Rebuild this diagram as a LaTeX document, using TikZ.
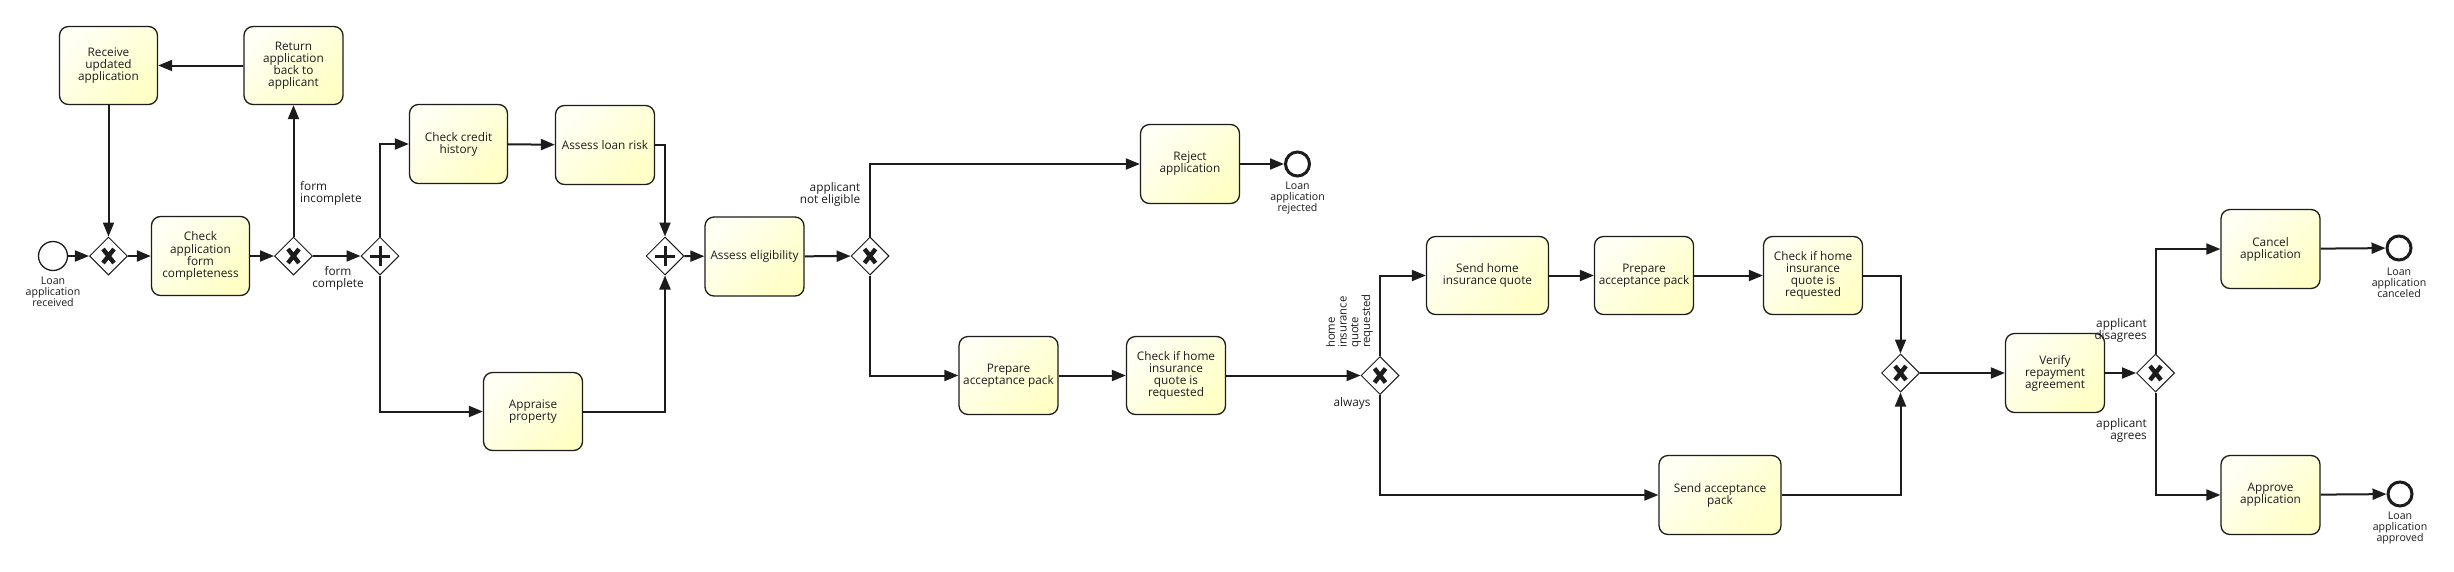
\documentclass[tikz,border=0pt]{standalone}
\usepackage{fontspec}
\setmainfont{Open Sans}
\usetikzlibrary{arrows.meta,shapes.geometric}

\definecolor{taskA}{RGB}{255,255,244}
\definecolor{taskB}{RGB}{255,255,198}
\definecolor{ink}{RGB}{28,28,28}

\tikzset{
 task/.style={rectangle, rounded corners=9pt, draw=ink, line width=1.3pt,
   top color=taskA, bottom color=taskB, shading angle=45,
   align=center, font=\fontsize{11.8}{12.1}\selectfont, text=ink, inner sep=2pt},
 gw/.style={diamond, draw=ink, line width=1pt, fill=white,
   minimum width=38pt, minimum height=38pt, inner sep=0pt},
 xorgw/.style={gw, path picture={
   \draw[line width=4.4pt, ink]
     ([shift={(-5.5,-7)}]path picture bounding box.center) -- ([shift={(5.5,7)}]path picture bounding box.center)
     ([shift={(-5.5,7)}]path picture bounding box.center) -- ([shift={(5.5,-7)}]path picture bounding box.center);}},
 andgw/.style={gw, path picture={
   \draw[line width=3pt, ink]
     ([shift={(-10,0)}]path picture bounding box.center) -- ([shift={(10,0)}]path picture bounding box.center)
     ([shift={(0,-10)}]path picture bounding box.center) -- ([shift={(0,10)}]path picture bounding box.center);}},
 startev/.style={circle, draw=ink, line width=1.3pt, fill=white, minimum size=29pt, inner sep=0pt},
 endev/.style={circle, draw=ink, line width=3pt, fill=white, minimum size=24pt, inner sep=0pt},
 flow/.style={draw=ink, line width=2pt, -{Triangle[length=14pt,width=11pt]}},
 evlabel/.style={align=center, font=\fontsize{10.6}{11}\selectfont, text=ink, inner sep=0pt},
 edgelabel/.style={font=\fontsize{11.8}{12.1}\selectfont, text=ink, inner sep=0pt},
}

\begin{document}
\begin{tikzpicture}[x=1pt, y=-1pt]
\useasboundingbox (0,0) rectangle (2454,571);
\fill[white] (0,0) rectangle (2454,571);

% events
\node[startev] (start) at (53,256) {};
\node[evlabel] (startlbl) at (53,292) {Loan\\application\\received};
\node[endev] (endrej) at (1297.5,164) {};
\node[evlabel] (rejlbl) at (1297.5,198) {Loan\\application\\rejected};
\node[endev] (endcan) at (2399,248) {};
\node[evlabel] (canlbl) at (2399,283) {Loan\\application\\canceled};
\node[endev] (endapp) at (2400,494) {};
\node[evlabel] (applbl) at (2400,528) {Loan\\application\\approved};

% gateways
\node[xorgw] (g1) at (108.5,256) {};
\node[xorgw] (g2) at (293.5,256) {};
\node[andgw] (g3) at (380,256) {};
\node[andgw] (g4) at (665,256) {};
\node[xorgw] (g5) at (870,256) {};
\node[xorgw] (g6) at (1380,375.5) {};
\node[xorgw] (g7) at (1900.5,373) {};
\node[xorgw] (g8) at (2155.5,373) {};

% tasks
\node[task, minimum width=98pt, minimum height=78pt] (rcv) at (108.5,65.5) {Receive\\updated\\application};
\node[task, minimum width=99pt, minimum height=78pt] (ret) at (293.5,65.5) {Return\\application\\back to\\applicant};
\node[task, minimum width=98pt, minimum height=79pt] (chk) at (200.5,256) {Check\\application\\form\\completeness};
\node[task, minimum width=98pt, minimum height=79pt] (credit) at (458.5,144) {Check credit\\history};
\node[task, minimum width=99pt, minimum height=79pt] (risk) at (605,145) {Assess loan risk};
\node[task, minimum width=99pt, minimum height=78pt] (appr) at (533,411.5) {Appraise\\property};
\node[task, minimum width=99pt, minimum height=79pt] (elig) at (754.5,256.5) {Assess eligibility};
\node[task, minimum width=99pt, minimum height=79pt] (rej) at (1190,164) {Reject\\application};
\node[task, minimum width=99pt, minimum height=78pt] (prep1) at (1008.5,375.5) {Prepare\\acceptance pack};
\node[task, minimum width=99pt, minimum height=78pt] (chkq1) at (1176,375.5) {Check if home\\insurance\\quote is\\requested};
\node[task, minimum width=122pt, minimum height=78pt] (sendq) at (1487.5,275.5) {Send home\\insurance quote};
\node[task, minimum width=99pt, minimum height=78pt] (prep2) at (1644,275.5) {Prepare\\acceptance pack};
\node[task, minimum width=99pt, minimum height=78pt] (chkq2) at (1813,275.5) {Check if home\\insurance\\quote is\\requested};
\node[task, minimum width=122pt, minimum height=79pt] (sendp) at (1720,495) {Send acceptance\\pack};
\node[task, minimum width=99pt, minimum height=79pt] (verify) at (2055,373) {Verify\\repayment\\agreement};
\node[task, minimum width=99pt, minimum height=79pt] (cancel) at (2270.5,249) {Cancel\\application};
\node[task, minimum width=99pt, minimum height=79pt] (approve) at (2270.5,495) {Approve\\application};

% flows
\draw[flow] (start) -- (g1);
\draw[flow] (rcv) -- (g1);
\draw[flow] (g1) -- (chk);
\draw[flow] (chk) -- (g2);
\draw[flow] (g2) -- (ret);
\draw[flow] (ret) -- (rcv);
\draw[flow] (g2) -- (g3);
\draw[flow] (g3.north) |- (credit.west);
\draw[flow] (g3.south) |- (appr.west);
\draw[flow] (credit) -- (risk);
\draw[flow] (risk.east) -| (g4.north);
\draw[flow] (appr.east) -| (g4.south);
\draw[flow] (g4) -- (elig);
\draw[flow] (elig) -- (g5);
\draw[flow] (g5.north) |- (rej.west);
\draw[flow] (rej) -- (endrej);
\draw[flow] (g5.south) |- (prep1.west);
\draw[flow] (prep1) -- (chkq1);
\draw[flow] (chkq1) -- (g6);
\draw[flow] (g6.north) |- (sendq.west);
\draw[flow] (g6.south) |- (sendp.west);
\draw[flow] (sendq) -- (prep2);
\draw[flow] (prep2) -- (chkq2);
\draw[flow] (chkq2.east) -| (g7.north);
\draw[flow] (sendp.east) -| (g7.south);
\draw[flow] (g7) -- (verify);
\draw[flow] (verify) -- (g8);
\draw[flow] (g8.north) |- (cancel.west);
\draw[flow] (g8.south) |- (approve.west);
\draw[flow] (cancel) -- (endcan);
\draw[flow] (approve) -- (endapp);

% flow labels
\node[edgelabel, anchor=west, align=left] (lincomp) at (300,193) {form\\incomplete};
\node[edgelabel, align=center] (lcomp) at (338,278) {form\\complete};
\node[edgelabel, anchor=east, align=right] (lnotel) at (860.5,194.5) {applicant\\not eligible};
\node[edgelabel, rotate=90, anchor=west, align=left, font=\fontsize{11.3}{11.7}\selectfont] (lhome) at (1349.5,348) {home\\insurance\\quote\\requested};
\node[edgelabel] (lalways) at (1352,403) {always};
\node[edgelabel, anchor=east, align=right] (ldis) at (2147,330.5) {applicant\\disagrees};
\node[edgelabel, anchor=east, align=right] (lagr) at (2147,430) {applicant\\agrees};
\end{tikzpicture}
\end{document}
